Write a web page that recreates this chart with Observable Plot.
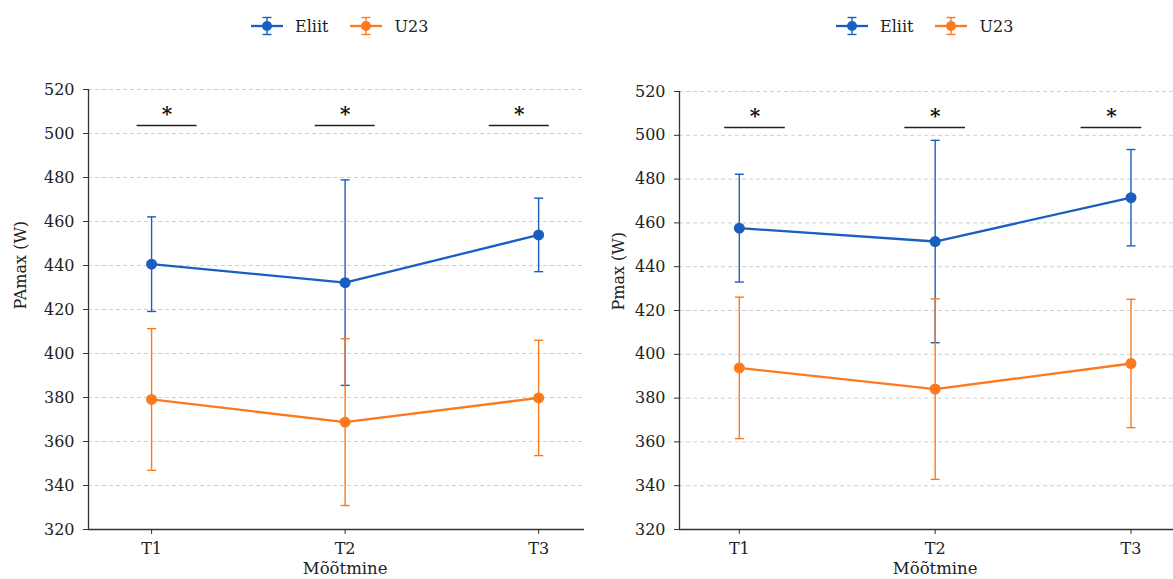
<!DOCTYPE html>
<html><head><meta charset="utf-8">
<script src="https://cdn.jsdelivr.net/npm/d3@7"></script>
<script src="https://cdn.jsdelivr.net/npm/@observablehq/plot@0.6"></script>
<style>
body{margin:0;background:#fff;font-family:"DejaVu Serif",serif;}
#wrap{position:relative;width:1173px;height:579px;overflow:hidden;background:#fff;}
.panel{position:absolute;top:0;}
.legend{position:absolute;top:16px;display:flex;align-items:center;font-size:16px;color:#222;font-family:"DejaVu Serif",serif;white-space:nowrap;}
.legend svg{display:block;margin-right:12px;}
.legend .item{display:flex;align-items:center;margin-right:22px;}
</style></head><body><div id="wrap"></div>
<script>
// ---- data ----
const timepoints = ["T1", "T2", "T3"];
const groups = ["Eliit", "U23"];
const groupColors = ["#1a5fc0", "#fb7a1e"];

const paMaxEliitMean = [440.6, 432.2, 453.9];
const paMaxEliitSD   = [21.5, 46.7, 16.7];
const paMaxU23Mean   = [379.1, 368.8, 379.8];
const paMaxU23SD     = [32.2, 37.9, 26.2];

const pMaxEliitMean  = [457.6, 451.5, 471.5];
const pMaxEliitSD    = [24.6, 46.2, 22.0];
const pMaxU23Mean    = [393.8, 384.1, 395.8];
const pMaxU23SD      = [32.3, 41.2, 29.3];

const yTicks = [320, 340, 360, 380, 400, 420, 440, 460, 480, 500, 520];
const sigLabels = ["*", "*", "*"];
const sigCenters = [0.08, 1.0, 1.9];
const sigHalfWidth = 0.155;
const sigLevel = 503.6;
const xLabel = "Mõõtmine";

// ---- helpers ----
const capSymbol = {
  draw(ctx, size) {
    const w = Math.sqrt(size / Math.PI);
    ctx.moveTo(-w, 0);
    ctx.lineTo(w, 0);
  }
};

function rows(means, sds, group) {
  return means.map((m, i) => ({t: i, group, mean: m, lo: m - sds[i], hi: m + sds[i]}));
}

function panel(cfg) {
  const series = [rows(cfg.eliitMean, cfg.eliitSD, groups[0]), rows(cfg.u23Mean, cfg.u23SD, groups[1])];
  const marks = [
    Plot.gridY(yTicks, {stroke: "#cfcfcf", strokeDasharray: "4,3", strokeOpacity: 1, strokeWidth: 1}),
    Plot.axisY({ticks: yTicks, tickSize: 5, tickPadding: 9, label: null, fontSize: 16, stroke: "#333"}),
    Plot.axisX({ticks: [0, 1, 2], tickFormat: i => timepoints[i], tickSize: 5, tickPadding: 8, label: null, fontSize: 16, stroke: "#333"}),
    Plot.ruleY([yTicks[0]], {stroke: "#333", strokeWidth: 1.3}),
    Plot.ruleX([cfg.xDomain[0]], {stroke: "#333", strokeWidth: 1.3})
  ];
  for (const s of series) {
    marks.push(
      Plot.ruleX(s, {x: "t", y1: "lo", y2: "hi", stroke: "group", strokeWidth: 1.4}),
      Plot.dot(s, {x: "t", y: "hi", symbol: capSymbol, r: 4.5, stroke: "group", strokeWidth: 1.4}),
      Plot.dot(s, {x: "t", y: "lo", symbol: capSymbol, r: 4.5, stroke: "group", strokeWidth: 1.4}),
      Plot.line(s, {x: "t", y: "mean", stroke: "group", strokeWidth: 2.3}),
      Plot.dot(s, {x: "t", y: "mean", fill: "group", r: 5.5})
    );
  }
  marks.push(
    Plot.ruleY(sigCenters, {y: () => sigLevel, x1: d => d - sigHalfWidth, x2: d => d + sigHalfWidth, stroke: "#222", strokeWidth: 1.5}),
    Plot.text(sigCenters, {x: d => d, y: () => sigLevel, text: (d, i) => sigLabels[i], dy: -11, fontSize: 20, fontWeight: "bold", fill: "#111"}),
    Plot.text([cfg.yLabel], {text: d => d, frameAnchor: "left", dx: cfg.yLabelDx, rotate: -90, fontSize: 16, fill: "#222"}),
    Plot.text([xLabel], {text: d => d, x: () => 1, frameAnchor: "bottom", dy: 44, fontSize: 16.5, fill: "#222"})
  );
  const chart = Plot.plot({
    width: cfg.width,
    height: 579,
    marginLeft: cfg.marginLeft,
    marginRight: cfg.marginRight,
    marginTop: cfg.marginTop,
    marginBottom: 50,
    x: {type: "linear", domain: cfg.xDomain, axis: null},
    y: {domain: [yTicks[0], yTicks[yTicks.length - 1]], axis: null},
    color: {domain: groups, range: groupColors},
    style: {fontFamily: "DejaVu Serif, serif", fontSize: "16px", color: "#222", background: "transparent", overflow: "visible"},
    marks
  });
  const div = document.createElement("div");
  div.className = "panel";
  div.style.left = cfg.left + "px";
  div.appendChild(chart);
  document.getElementById("wrap").appendChild(div);

  // legend
  const lg = document.createElement("div");
  lg.className = "legend";
  lg.style.left = cfg.legendLeft + "px";
  groups.forEach((g, i) => {
    const c = groupColors[i];
    const item = document.createElement("div");
    item.className = "item";
    item.innerHTML = `<svg width="32" height="20" viewBox="0 0 32 20">
      <line x1="0" y1="10" x2="32" y2="10" stroke="${c}" stroke-width="2.3"/>
      <line x1="16" y1="1.5" x2="16" y2="18.5" stroke="${c}" stroke-width="1.4"/>
      <line x1="11.5" y1="1.5" x2="20.5" y2="1.5" stroke="${c}" stroke-width="1.4"/>
      <line x1="11.5" y1="18.5" x2="20.5" y2="18.5" stroke="${c}" stroke-width="1.4"/>
      <circle cx="16" cy="10" r="5" fill="${c}"/></svg><span>${g}</span>`;
    lg.appendChild(item);
  });
  document.getElementById("wrap").appendChild(lg);
}

panel({
  left: 0, width: 590, marginLeft: 88, marginRight: 6, marginTop: 89,
  xDomain: [-0.326, 2.237], yLabel: "PAmax (W)", yLabelDx: -68, legendLeft: 251,
  eliitMean: paMaxEliitMean, eliitSD: paMaxEliitSD, u23Mean: paMaxU23Mean, u23SD: paMaxU23SD
});
panel({
  left: 590, width: 583, marginLeft: 89, marginRight: 0, marginTop: 91,
  xDomain: [-0.3055, 2.217], yLabel: "Pmax (W)", yLabelDx: -61, legendLeft: 836,
  eliitMean: pMaxEliitMean, eliitSD: pMaxEliitSD, u23Mean: pMaxU23Mean, u23SD: pMaxU23SD
});
</script></body></html>
